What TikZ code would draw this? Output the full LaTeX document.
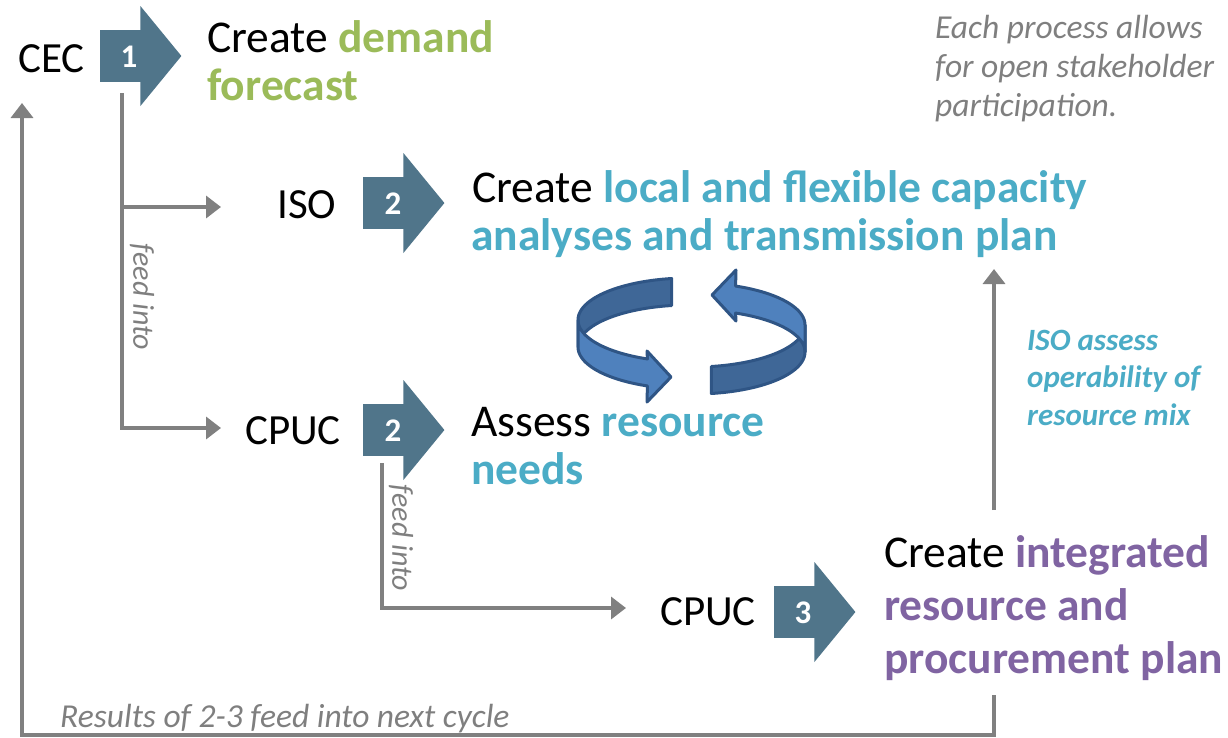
\documentclass[tikz,border=0pt]{standalone}
\usepackage{fontspec}
\setmainfont{Carlito}
\usetikzlibrary{arrows.meta,calc}
\definecolor{arrowblue}{HTML}{50758A}
\definecolor{conngray}{HTML}{808080}
\definecolor{notegray}{HTML}{7F7F7F}
\definecolor{dgreen}{HTML}{9BBB59}
\definecolor{dteal}{HTML}{4BACC6}
\definecolor{dpurple}{HTML}{8064A2}
\definecolor{ringdark}{HTML}{3F6797}
\definecolor{ringlight}{HTML}{4F81BD}
\definecolor{ringline}{HTML}{2F5585}
\begin{document}
\begin{tikzpicture}[x=1pt,y=-1pt,
  lbl/.style={anchor=base west, inner sep=0pt, font=\fontsize{43}{43}\selectfont},
  maintxt/.style={anchor=base west, inner sep=0pt, font=\fontsize{45.5}{45.5}\selectfont},
  numbox/.style={fill=arrowblue, draw=none, minimum width=41pt, minimum height=52pt, inner sep=0pt},
  numtxt/.style={text=white, inner sep=0pt, font=\bfseries\fontsize{33}{33}\selectfont},
  headfill/.style={fill=arrowblue},
  conn/.style={draw=conngray, line width=3.5pt, line join=miter, -{Triangle[width=22pt,length=15pt]}},
  noteit/.style={anchor=base west, inner sep=0pt, text=notegray, font=\itshape\fontsize{33.5}{33.5}\selectfont},
  isonote/.style={anchor=base west, inner sep=0pt, text=dteal, font=\bfseries\itshape\fontsize{31}{31}\selectfont},
  feedtxt/.style={inner sep=0pt, text=notegray, rotate=-90, font=\itshape\fontsize{30}{30}\selectfont},
  ringback/.style={fill=ringdark, draw=ringline, line width=3pt, line join=round},
  ringfront/.style={fill=ringlight, draw=ringline, line width=3pt, line join=round}
]
\useasboundingbox (0,0) rectangle (1228,737);

% ---- block arrows ----
\node[numbox] (a1) at (120,56) {};
\fill[headfill] ([xshift=-0.3pt]a1.east) ++(0,-50) -- ++(41,50) -- ++(-41,50) -- cycle;
\node[numtxt] (a1n) at ([xshift=9pt,yshift=-1pt]a1.center) {1};

\node[numbox] (a2) at (383,203) {};
\fill[headfill] ([xshift=-0.3pt]a2.east) ++(0,-50) -- ++(41,50) -- ++(-41,50) -- cycle;
\node[numtxt] (a2n) at ([xshift=10pt,yshift=-1pt]a2.center) {2};

\node[numbox] (a3) at (383,430) {};
\fill[headfill] ([xshift=-0.3pt]a3.east) ++(0,-50) -- ++(41,50) -- ++(-41,50) -- cycle;
\node[numtxt] (a3n) at ([xshift=10pt,yshift=-1pt]a3.center) {2};

\node[numbox] (a4) at (794,612) {};
\fill[headfill] ([xshift=-0.3pt]a4.east) ++(0,-50) -- ++(41,50) -- ++(-41,50) -- cycle;
\node[numtxt] (a4n) at ([xshift=9pt,yshift=-1pt]a4.center) {3};

% ---- labels ----
\node[lbl] (cec) at (18,72) {CEC};
\node[lbl] (iso) at (277,218) {ISO};
\node[lbl] (cpuc2) at (245,444) {CPUC};
\node[lbl] (cpuc3) at (660,625) {CPUC};

% ---- main texts ----
\node[maintxt] (t1a) at (207,52) {Create \textbf{\color{dgreen}demand}};
\node[maintxt] (t1b) at (207,100) {\textbf{\color{dgreen}forecast}};
\node[maintxt] (t2a) at (472,202) {Create \textbf{\color{dteal}local and flexible capacity}};
\node[maintxt] (t2b) at (471,250) {\textbf{\color{dteal}analyses and transmission plan}};
\node[maintxt] (t3a) at (471,436) {Assess \textbf{\color{dteal}resource}};
\node[maintxt] (t3b) at (471,484) {\textbf{\color{dteal}needs}};
\node[maintxt] (t4a) at (884,567) {Create \textbf{\color{dpurple}integrated}};
\node[maintxt] (t4b) at (884,620) {\textbf{\color{dpurple}resource and}};
\node[maintxt] (t4c) at (884,673) {\textbf{\color{dpurple}procurement plan}};

% ---- notes ----
\node[noteit] (n1) at (935,38) {Each process allows};
\node[noteit] (n2) at (935,77) {for open stakeholder};
\node[noteit] (n3) at (935,116) {participation.};
\node[isonote] (i1) at (1027,350) {ISO assess};
\node[isonote] (i2) at (1027,387) {operability of};
\node[isonote] (i3) at (1027,425) {resource mix};
\node[noteit] (res) at (60,727) {Results of 2-3 feed into next cycle};
\node[feedtxt] (fi1) at (142,297) {feed into};
\node[feedtxt] (fi2) at (401,538) {feed into};

% ---- connectors ----
\coordinate (c1iso) at (221,207);
\coordinate (c1cp) at (221,428);
\coordinate (c2t) at (626,608);
\coordinate (upS) at (994,510);
\coordinate (upE) at (994,269);
\coordinate (lpS) at (994,695);
\coordinate (lpA) at (994,735);
\coordinate (lpB) at (22,735);
\coordinate (lpE) at (22,103);
\draw[conn] ([shift={(2,11)}]a1.south) |- (c1cp);
\draw[conn] ([xshift=2pt]a1.south |- c1iso) -- (c1iso);
\draw[conn] ([shift={(-1,7)}]a3.south) |- (c2t);
\draw[conn] (upS) -- (upE);
\draw[conn] (lpS) -- (lpA) -- (lpB) -- (lpE);

% ---- circular arrows ----
\filldraw[ringback] plot[domain=261:180,samples=40] ({689+111*cos(\x)},{320+42*sin(\x)})
  -- plot[domain=180:261,samples=40] ({689+111*cos(\x)},{347+42*sin(\x)}) -- cycle;
\filldraw[ringfront] plot[domain=180:112,samples=40] ({689+111*cos(\x)},{320+42*sin(\x)})
  -- (647,351) -- (671,377) -- (647,402)
  -- plot[domain=112:180,samples=40] ({689+111*cos(\x)},{347+42*sin(\x)}) -- cycle;
\begin{scope}[rotate around={180:(691.5,336)}]
\filldraw[ringback] plot[domain=261:180,samples=40] ({689+111*cos(\x)},{320+42*sin(\x)})
  -- plot[domain=180:261,samples=40] ({689+111*cos(\x)},{347+42*sin(\x)}) -- cycle;
\filldraw[ringfront] plot[domain=180:112,samples=40] ({689+111*cos(\x)},{320+42*sin(\x)})
  -- (647,351) -- (671,377) -- (647,402)
  -- plot[domain=112:180,samples=40] ({689+111*cos(\x)},{347+42*sin(\x)}) -- cycle;
\end{scope}
\end{tikzpicture}
\end{document}
